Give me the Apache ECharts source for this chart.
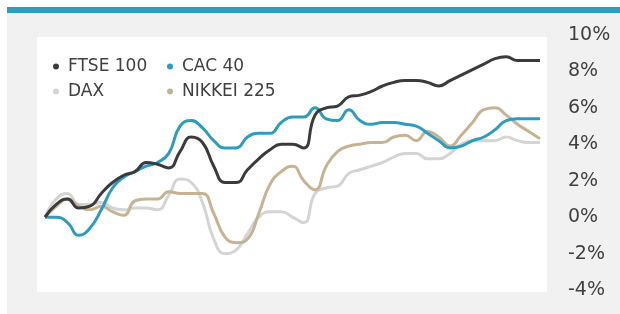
<!DOCTYPE html>
<html>
<head>
<meta charset="utf-8">
<script src="https://cdn.jsdelivr.net/npm/echarts@6/dist/echarts.min.js"></script>
<style>
  html, body { margin: 0; padding: 0; background: #ffffff; }
  #chart { width: 620px; height: 314px; }
</style>
</head>
<body>
<div id="chart"></div>
<script>
// data, % change from start ///////
var days = [];
for (var d = 1; d <= 45; d++) days.push('D' + d);

var ftse = [0, 0.7, 1.0, 0.5, 0.6, 1.3, 1.9, 2.3, 2.5, 3.0, 2.9, 2.7, 3.6, 4.4, 4.1, 2.8,
    1.9, 1.9, 2.6, 3.2, 3.7, 4.0, 4.0, 3.8, 5.6, 6.0, 6.1, 6.6, 6.7, 6.9, 7.2, 7.4,
    7.5, 7.5, 7.4, 7.2, 7.5, 7.8, 8.1, 8.4, 8.7, 8.8, 8.6, 8.6, 8.6];
var cac = [0, 0.0, -0.3, -1.0, -0.6, 0.4, 1.6, 2.2, 2.5, 2.8, 3.0, 3.5, 5.0, 5.3, 4.9, 4.2,
    3.8, 3.8, 4.4, 4.6, 4.6, 5.2, 5.5, 5.5, 6.0, 5.4, 5.3, 5.9, 5.3, 5.1, 5.2, 5.2,
    5.1, 5.0, 4.6, 4.2, 3.8, 3.9, 4.2, 4.4, 4.8, 5.3, 5.4, 5.4, 5.4];
var dax = [0, 1.0, 1.3, 0.7, 0.7, 0.8, 0.5, 0.4, 0.5, 0.5, 0.4, 1.2, 2.1, 1.9, 0.8, -1.2,
    -2.0, -1.8, -0.9, 0.0, 0.3, 0.3, 0.0, -0.3, 1.3, 1.6, 1.7, 2.4, 2.6, 2.8, 3.0, 3.3,
    3.5, 3.5, 3.2, 3.2, 3.5, 4.0, 4.2, 4.2, 4.2, 4.4, 4.2, 4.1, 4.1];
var nikkei = [0, 0.6, 1.0, 0.6, 0.4, 0.6, 0.3, 0.1, 0.9, 1.0, 1.0, 1.4, 1.3, 1.3, 1.3, 0.2,
    -1.1, -1.4, -1.2, 0.2, 1.8, 2.5, 2.8, 2.0, 1.5, 2.8, 3.6, 3.9, 4.0, 4.1, 4.1, 4.4,
    4.5, 4.2, 4.7, 4.4, 3.9, 4.5, 5.2, 5.9, 6.0, 5.6, 5.1, 4.7, 4.3];

var names = ['FTSE 100', 'CAC 40', 'DAX', 'NIKKEI 225'];
var colors = ['#3b3b3b', '#2e9bc0', '#d4d4d4', '#c6b393'];
var values = [ftse, cac, dax, nikkei];

var font = 'DejaVu Sans';
var textColor = '#404040';

// one legend per item so the two columns line up
var legendPos = [[48, 53], [162, 53], [48, 78], [162, 78]];
var legends = names.map(function (n, i) {
    return {
        data: [n],
        left: legendPos[i][0],
        top: legendPos[i][1],
        icon: 'circle',
        itemWidth: 14,
        itemHeight: 6,
        selectedMode: false,
        textStyle: { fontFamily: font, fontSize: 17, color: textColor }
    };
});

var series = names.map(function (n, i) {
    return {
        name: n,
        type: 'line',
        data: values[i],
        smooth: true,
        showSymbol: false,
        color: colors[i],
        lineStyle: { width: 3, color: colors[i] },
        z: 10 - i
    };
});
// dax drawn underneath the rest
series[2].z = 5;

var option = {
    animation: false,
    backgroundColor: '#ffffff',
    graphic: [
        { type: 'rect', shape: { x: 7, y: 7, width: 613, height: 307 }, style: { fill: '#f1f1f1' }, z: -10 },
        { type: 'rect', shape: { x: 7, y: 7, width: 613, height: 6 }, style: { fill: '#2e9bc0' }, z: -9 },
        { type: 'rect', shape: { x: 37, y: 37, width: 510, height: 255 }, style: { fill: '#ffffff' }, z: -9 }
    ],
    legend: legends,
    grid: {
        left: 45,
        right: 80,
        top: 35,
        bottom: 24
    },
    xAxis: {
        type: 'category',
        data: days,
        boundaryGap: false,
        show: false
    },
    yAxis: {
        type: 'value',
        position: 'right',
        min: -4,
        max: 10,
        interval: 2,
        splitLine: { show: false },
        axisLine: { show: false },
        axisTick: { show: false },
        axisLabel: {
            margin: 28,
            formatter: '{value}%',
            fontFamily: font,
            fontSize: 19,
            color: textColor
        }
    },
    series: series
};

var chart = echarts.init(document.getElementById('chart'));
chart.setOption(option);
</script>
</body>
</html>
